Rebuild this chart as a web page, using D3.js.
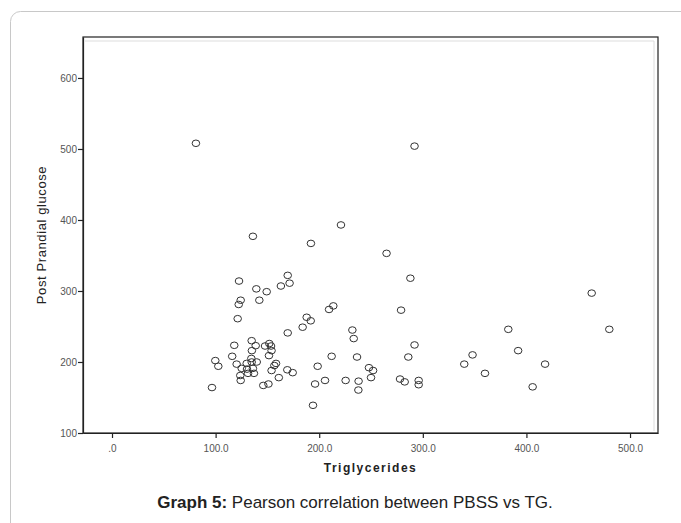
<!DOCTYPE html>
<html>
<head>
<meta charset="utf-8">
<script src="https://cdn.jsdelivr.net/npm/d3@7"></script>
<style>
  body { margin: 0; background: #fff; }
  svg { display: block; font-family: Arial, "Liberation Sans", sans-serif; }
</style>
</head>
<body>
<div id="chart"></div>
<script>
// Triglycerides (x) and post prandial glucose (y)
const tg = [81, 292, 136, 221, 192, 265, 288, 279, 463, 122.6, 169.6, 171.4, 163, 139.3, 149.3,
  124.2, 122.3, 142.2, 121.3, 209.5, 213.6, 187.9, 191.8, 184, 169.6, 118, 134.8, 138.7, 147.7,
  151.8, 153.5, 154, 116, 135, 134.5, 134.8, 151.5, 99.7, 102.6, 120.3, 130, 139.7, 158.3, 156.7,
  169.2, 125.2, 130.3, 136, 154, 131.3, 137, 123.8, 124.2, 161, 146, 151, 96.5, 382.5, 480, 232,
  233.3, 292, 392, 212, 236.5, 286, 348, 340, 418, 198.5, 248, 252, 250, 360, 174.4, 205.6, 196,
  225.5, 238, 237.8, 278, 282.5, 296, 296, 406, 194];
const ppg = [508, 504, 377, 393, 367, 353, 318, 273, 297, 314, 322, 311, 307, 303, 299,
  287, 281, 287, 261, 274, 279, 263, 258, 249, 241, 223.5, 230, 223, 222.5,
  226, 222.5, 216, 208, 216, 205, 200, 209, 202, 194, 197, 198, 200, 198, 195,
  189, 191, 190, 191, 188, 184, 184, 181, 174, 178, 167, 169, 164, 246, 246, 245,
  233, 224, 216, 208, 207, 207, 210, 197, 197, 194, 192, 188, 178, 184, 185, 174, 169,
  174, 173, 160.5, 176, 172, 174, 168, 165, 139];

const xTicks = [0, 100, 200, 300, 400, 500];
const yTicks = [100, 200, 300, 400, 500, 600];

const width = 681;
const height = 523;
const frame = { left: 83, right: 658, top: 37, bottom: 433 };

const svg = d3.select("#chart")
  .append("svg")
  .attr("width", width)
  .attr("height", height);

// outer panel border
svg.append("rect")
  .attr("x", 10.5)
  .attr("y", 11.5)
  .attr("width", 700)
  .attr("height", 560)
  .attr("rx", 10)
  .attr("fill", "#fff")
  .attr("stroke", "#c8c8c8");

const x = d3.scaleLinear()
  .domain([-28, 527])
  .range([frame.left, frame.right]);

const y = d3.scaleLinear()
  .domain([100, 657.7])
  .range([frame.bottom, frame.top]);

// plot frame
svg.append("rect")
  .attr("x", frame.left)
  .attr("y", frame.top)
  .attr("width", frame.right - frame.left)
  .attr("height", frame.bottom - frame.top)
  .attr("fill", "none")
  .attr("stroke", "#222")
  .attr("stroke-width", 1.2);

// faint inner edge lines
svg.append("path")
  .attr("d", `M${frame.left + 2},${frame.top + 4}H${frame.right - 4}V${frame.bottom - 2}`)
  .attr("fill", "none")
  .attr("stroke", "#ddd");

// ---------------------------
// Axes
// ---------------------------
const xAxis = svg.append("g")
  .attr("transform", `translate(0,${frame.bottom})`)
  .call(d3.axisBottom(x)
    .tickValues(xTicks)
    .tickSize(5)
    .tickSizeOuter(0)
    .tickFormat(d => d === 0 ? ".0" : d.toFixed(1)));

const yAxis = svg.append("g")
  .attr("transform", `translate(${frame.left},0)`)
  .call(d3.axisLeft(y)
    .tickValues(yTicks)
    .tickSize(5)
    .tickSizeOuter(0)
    .tickFormat(d3.format("d")));

[xAxis, yAxis].forEach(a => {
  a.select(".domain").attr("stroke", "#222").attr("stroke-width", 1.2);
  a.selectAll(".tick line").attr("stroke", "#222").attr("stroke-width", 1.2);
  a.selectAll(".tick text")
    .attr("font-size", 10)
    .attr("fill", "#555")
    .attr("font-family", "Arial, 'Liberation Sans', sans-serif");
});
xAxis.selectAll(".tick text").attr("dy", "1.05em");
yAxis.selectAll(".tick text").attr("x", -6);

// axis titles
svg.append("text")
  .attr("x", (frame.left + frame.right) / 2)
  .attr("y", 472)
  .attr("text-anchor", "middle")
  .attr("font-size", 12)
  .attr("font-weight", "bold")
  .attr("letter-spacing", 1.5)
  .attr("fill", "#222")
  .text("Triglycerides");

svg.append("text")
  .attr("transform", `translate(46,${(frame.top + frame.bottom) / 2}) rotate(-90)`)
  .attr("text-anchor", "middle")
  .attr("font-size", 13)
  .attr("letter-spacing", 0.6)
  .attr("fill", "#222")
  .text("Post Prandial glucose");

// ---------------------------
// Points
// ---------------------------
svg.append("g")
  .selectAll("ellipse")
  .data(tg.map((t, i) => ({ tg: t, ppg: ppg[i] })))
  .join("ellipse")
  .attr("cx", d => x(d.tg))
  .attr("cy", d => y(d.ppg))
  .attr("rx", 3.8)
  .attr("ry", 3.3)
  .attr("fill", "none")
  .attr("stroke", "#333")
  .attr("stroke-width", 1);

// caption
const caption = svg.append("text")
  .attr("x", 355)
  .attr("y", 508)
  .attr("text-anchor", "middle")
  .attr("font-size", 17)
  .attr("fill", "#222");
caption.append("tspan").attr("font-weight", "bold").text("Graph 5:");
caption.append("tspan").text(" Pearson correlation between PBSS vs TG.");
</script>
</body>
</html>
